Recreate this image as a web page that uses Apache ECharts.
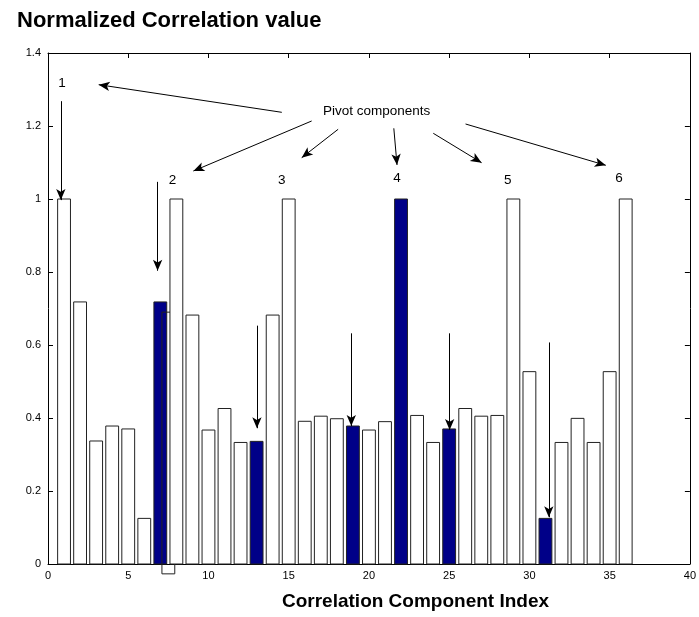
<!DOCTYPE html>
<html>
<head>
<meta charset="utf-8">
<script src="https://cdn.jsdelivr.net/npm/echarts@6/dist/echarts.min.js"></script>
<style>html,body{margin:0;padding:0;background:#fff}#c{width:699px;height:617px}</style>
</head>
<body>
<div id="c"></div>
<script>
// ---- data ----
var xTicks = [0, 5, 10, 15, 20, 25, 30, 35, 40];
var yTicks = [0, 0.2, 0.4, 0.6, 0.8, 1, 1.2, 1.4];
// bars: index, value, highlighted (1 = pivot match)
var barIndex = [1,2,3,4,5,6,7,7.5,8,9,10,11,12,13,14,15,16,17,18,19,20,21,22,23,24,25,26,27,28,29,30,31,32,33,34,35,36];
var barLow   = [0,0,0,0,0,0,0,-0.027,0,0,0,0,0,0,0,0,0,0,0,0,0,0,0,0,0,0,0,0,0,0,0,0,0,0,0,0,0];
var barHigh  = [1.0,0.718,0.337,0.378,0.370,0.125,0.718,0.69,1.0,0.682,0.367,0.426,0.333,0.336,0.682,1.0,0.391,0.405,0.398,0.378,0.367,0.39,1.0,0.407,0.333,0.370,0.426,0.405,0.407,1.0,0.527,0.125,0.333,0.399,0.333,0.527,1.0];
var barKind  = [0,0,0,0,0,0,1,2,0,0,0,0,0,1,0,0,0,0,0,1,0,0,1,0,0,1,0,0,0,0,0,1,0,0,0,0,0];
// annotation arrows: [x1, y1, x2, y2]
var arrows = [
  [14.57,1.2375,3.16,1.3132],
  [16.43,1.2137,9.06,1.0767],
  [18.08,1.1910,15.81,1.1132],
  [21.55,1.1937,21.75,1.0932],
  [24.01,1.18,27.02,1.0995],
  [26.02,1.2055,34.76,1.0923],
  [0.80,1.268,0.80,0.997],
  [6.83,1.047,6.83,0.8035],
  [13.02,0.653,13.02,0.372],
  [18.90,0.632,18.90,0.378],
  [25.03,0.632,25.03,0.367],
  [31.21,0.607,31.21,0.128]
];
var labelText = ['1','2','3','4','5','6','Pivot components'];
var labelX = [0.88,7.76,14.57,21.75,28.65,35.58,20.48];
var labelY = [1.317,1.0502,1.0502,1.0567,1.0502,1.0567,1.239];

var FONT = '"Liberation Sans", Arial, sans-serif';
var barData = barIndex.map(function(x, i){ return [x, barLow[i], barHigh[i], barKind[i]]; });
var chart = echarts.init(document.getElementById('c'));
var option = {
  animation: false,
  backgroundColor: '#fff',
  title: [
    {text: 'Normalized Correlation value', left: 12, top: 5,
     textStyle: {fontFamily: FONT, fontSize: 22, fontWeight: 'bold', color: '#000'}},
    {text: 'Correlation Component Index', left: 277, top: 587,
     textStyle: {fontFamily: FONT, fontSize: 19, fontWeight: 'bold', color: '#000'}}
  ],
  grid: {left: 48, right: 5, top: 53, bottom: 53, containLabel: false},
  xAxis: [
    {type: 'value', min: 0, max: 40, interval: 5, position: 'bottom',
     axisLine: {show: true, onZero: false, lineStyle: {color: '#000', width: 1}},
     axisTick: {show: true, inside: true, length: 5, lineStyle: {color: '#000'}},
     axisLabel: {fontFamily: FONT, fontSize: 11, color: '#000', margin: 6,
       formatter: function(v){ return xTicks.indexOf(v) >= 0 ? String(v) : ''; }},
     splitLine: {show: false}},
    {type: 'value', min: 0, max: 40, interval: 5, position: 'top',
     axisLine: {show: true, onZero: false, lineStyle: {color: '#000', width: 1}},
     axisTick: {show: true, inside: true, length: 5, lineStyle: {color: '#000'}},
     axisLabel: {show: false}, splitLine: {show: false}}
  ],
  yAxis: [
    {type: 'value', min: 0, max: 1.4, interval: 0.2, position: 'left',
     axisLine: {show: true, onZero: false, lineStyle: {color: '#000', width: 1}},
     axisTick: {show: true, inside: true, length: 5, lineStyle: {color: '#000'}},
     axisLabel: {fontFamily: FONT, fontSize: 11, color: '#000', margin: 7,
       formatter: function(v){ return String(Math.round(v*10)/10); }},
     splitLine: {show: false}},
    {type: 'value', min: 0, max: 1.4, interval: 0.2, position: 'right',
     axisLine: {show: true, onZero: false, lineStyle: {color: '#000', width: 1}},
     axisTick: {show: true, inside: true, length: 5, lineStyle: {color: '#000'}},
     axisLabel: {show: false}, splitLine: {show: false}}
  ],
  series: [
    {
      type: 'custom',
      clip: false,
      data: barData,
      encode: {x: 0, y: [1, 2]},
      renderItem: function(params, api){
        var x = api.value(0), lo = api.value(1), hi = api.value(2), k = api.value(3);
        var p1 = api.coord([x - 0.4, hi]);
        var p2 = api.coord([x + 0.4, lo]);
        var fill = k === 1 ? '#000088' : (k === 2 ? 'none' : '#fff');
        return {
          type: 'rect',
          shape: {x: p1[0], y: p1[1], width: p2[0] - p1[0], height: p2[1] - p1[1]},
          style: {fill: fill, stroke: '#222', lineWidth: 1}
        };
      },
      markLine: {
        silent: true,
        symbol: ['none', 'arrow'],
        symbolSize: [7, 11],
        label: {show: false},
        lineStyle: {color: '#000', width: 1, type: 'solid'},
        emphasis: {disabled: true},
        data: arrows.map(function(a){ return [{coord: [a[0], a[1]]}, {coord: [a[2], a[3]]}]; })
      }
    },
    {
      type: 'scatter',
      symbolSize: 0,
      itemStyle: {color: '#fff', opacity: 1},
      silent: true,
      label: {show: true, position: 'inside', formatter: '{b}',
        fontFamily: FONT, fontSize: 13.5, color: '#000', opacity: 1},
      data: labelText.map(function(t, i){ return {name: t, value: [labelX[i], labelY[i]]}; })
    }
  ]
};
chart.setOption(option);
</script>
</body>
</html>
